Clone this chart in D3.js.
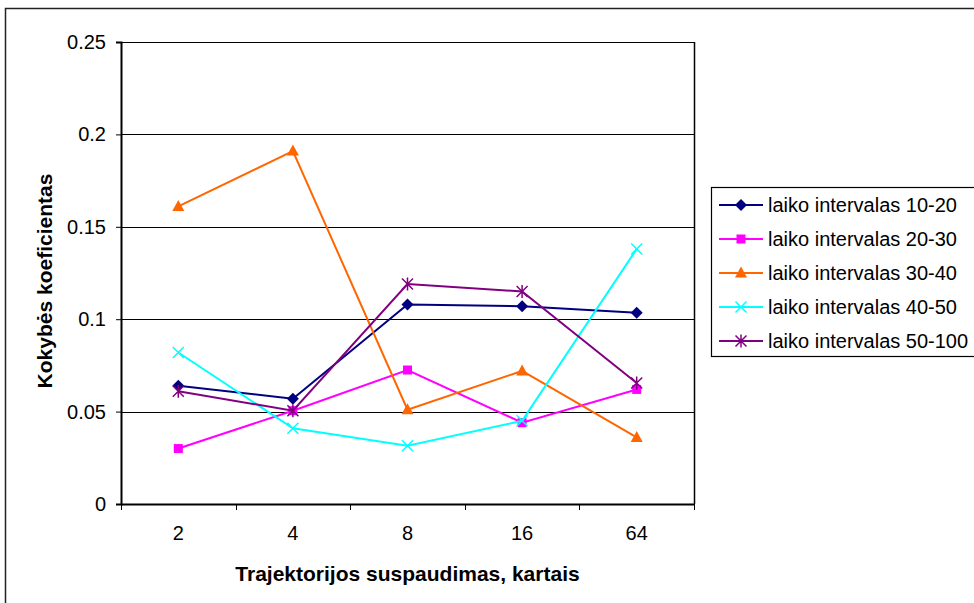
<!DOCTYPE html>
<html>
<head>
<meta charset="utf-8">
<script src="https://cdn.jsdelivr.net/npm/d3@7"></script>
<style>
  html, body { margin: 0; padding: 0; background: #fff; }
  svg { display: block; font-family: "Liberation Sans", Arial, sans-serif; }
</style>
</head>
<body>
<svg id="chart"></svg>
<script>
// categories (trajectory compression, times)
var categories = ["2", "4", "8", "16", "64"];
var yTicks = [0, 0.05, 0.1, 0.15, 0.2, 0.25];

var seriesNames = [
    "laiko intervalas 10-20",
    "laiko intervalas 20-30",
    "laiko intervalas 30-40",
    "laiko intervalas 40-50",
    "laiko intervalas 50-100"
];
var s1020 = [0.064, 0.057, 0.108, 0.107, 0.1035];
var s2030 = [0.030, 0.0505, 0.0725, 0.044, 0.062];
var s3040 = [0.161, 0.191, 0.051, 0.072, 0.036];
var s4050 = [0.082, 0.041, 0.0315, 0.045, 0.138];
var s50100 = [0.061, 0.0505, 0.119, 0.115, 0.0655];

var seriesValues = [s1020, s2030, s3040, s4050, s50100];
var colors = ["#000080", "#ff00ff", "#ff6600", "#00ffff", "#800080"];
var symbols = ["diamond", "square", "triangle", "x", "star"];

function drawChart() {
    var width = 974, height = 603;
    var marginLeft = 121, marginRight = 974 - 694, marginTop = 42, marginBottom = 603 - 504;
    var FONT = 20;

    var svg = d3.select("#chart")
        .attr("width", width)
        .attr("height", height)
        .attr("viewBox", [0, 0, width, height]);

    // outer chart frame (right and bottom edges fall outside the picture)
    svg.append("rect")
        .attr("x", 5.5).attr("y", 8.5)
        .attr("width", 1000).attr("height", 700)
        .attr("fill", "none")
        .attr("stroke", "#222")
        .attr("stroke-width", 1.5);

    var x = d3.scaleBand(categories, [marginLeft, width - marginRight]).padding(0);
    var y = d3.scaleLinear([0, 0.25], [height - marginBottom, marginTop]);

    // grid lines
    svg.append("g")
        .selectAll("line")
        .data(yTicks.filter(d => d > 0))
        .join("line")
        .attr("x1", marginLeft).attr("x2", width - marginRight)
        .attr("y1", d => Math.round(y(d)) + 0.5).attr("y2", d => Math.round(y(d)) + 0.5)
        .attr("stroke", "#000")
        .attr("stroke-width", 1);

    // right border of the plot area
    svg.append("line")
        .attr("x1", width - marginRight + 0.5).attr("x2", width - marginRight + 0.5)
        .attr("y1", marginTop).attr("y2", height - marginBottom)
        .attr("stroke", "#000").attr("stroke-width", 1.5);

    // y axis
    svg.append("g")
        .attr("transform", `translate(${marginLeft},0)`)
        .call(d3.axisLeft(y).tickValues(yTicks).tickFormat(d => String(d)).tickSize(5).tickPadding(10))
        .call(g => g.select(".domain").attr("stroke", "#000").attr("stroke-width", 2))
        .call(g => g.selectAll(".tick line").attr("stroke", "#000"))
        .call(g => g.selectAll(".tick text")
            .attr("font-size", FONT)
            .attr("fill", "#000")
            .attr("font-family", "Liberation Sans, Arial, sans-serif"));

    // x axis: labels at category centres, ticks between categories
    var xAxis = svg.append("g")
        .attr("transform", `translate(0,${height - marginBottom})`)
        .call(d3.axisBottom(x).tickSize(0).tickPadding(22).tickSizeOuter(0))
        .call(g => g.select(".domain").attr("stroke", "#000").attr("stroke-width", 2))
        .call(g => g.selectAll(".tick text")
            .attr("font-size", FONT)
            .attr("fill", "#000")
            .attr("font-family", "Liberation Sans, Arial, sans-serif"));

    var boundaries = categories.map(c => x(c)).concat([x(categories[categories.length - 1]) + x.bandwidth()]);
    xAxis.selectAll(".sep")
        .data(boundaries)
        .join("line")
        .attr("class", "sep")
        .attr("x1", d => Math.round(d) + 0.5).attr("x2", d => Math.round(d) + 0.5)
        .attr("y1", 0).attr("y2", 6)
        .attr("stroke", "#000");

    // axis titles
    svg.append("text")
        .attr("x", (marginLeft + width - marginRight) / 2)
        .attr("y", 581)
        .attr("text-anchor", "middle")
        .attr("font-size", 21)
        .attr("font-weight", "bold")
        .text("Trajektorijos suspaudimas, kartais");

    svg.append("text")
        .attr("transform", "translate(52,281) rotate(-90)")
        .attr("text-anchor", "middle")
        .attr("font-size", 21)
        .attr("font-weight", "bold")
        .text("Kokybės koeficientas");

    var cx = d => x(d.cat) + x.bandwidth() / 2;

    var line = d3.line()
        .x(cx)
        .y(d => y(d.v));

    function marker(sel, sym, color) {
        if (sym === "diamond") {
            sel.append("path").attr("d", "M0,-6L6,0L0,6L-6,0Z").attr("fill", color);
        } else if (sym === "square") {
            sel.append("rect").attr("x", -4.5).attr("y", -4.5).attr("width", 9).attr("height", 9).attr("fill", color);
        } else if (sym === "triangle") {
            sel.append("path").attr("d", "M0,-6.5L6,4.5L-6,4.5Z").attr("fill", color);
        } else if (sym === "x") {
            sel.append("path").attr("d", "M-5.5,-5.5L5.5,5.5M-5.5,5.5L5.5,-5.5").attr("stroke", color).attr("stroke-width", 1.5);
        } else if (sym === "star") {
            sel.append("path").attr("d", "M-5.5,-5.5L5.5,5.5M-5.5,5.5L5.5,-5.5M0,-6.5L0,6.5").attr("stroke", color).attr("stroke-width", 1.5);
        }
    }

    seriesValues.forEach(function(vals, i) {
        var pts = vals.map((v, j) => ({cat: categories[j], v: v}));
        var g = svg.append("g");
        g.append("path")
            .attr("fill", "none")
            .attr("stroke", colors[i])
            .attr("stroke-width", 2)
            .attr("d", line(pts));
        g.selectAll("g.m")
            .data(pts)
            .join("g")
            .attr("class", "m")
            .attr("transform", d => `translate(${cx(d)},${y(d.v)})`)
            .each(function() { marker(d3.select(this), symbols[i], colors[i]); });
    });

    // legend
    var legendX = 711, legendTop = 187, rowH = 34;
    svg.append("rect")
        .attr("x", legendX + 0.5).attr("y", legendTop + 0.5)
        .attr("width", 400).attr("height", 169)
        .attr("fill", "#fff")
        .attr("stroke", "#000")
        .attr("stroke-width", 1.2);

    seriesNames.forEach(function(name, i) {
        var cy = legendTop + 18 + i * rowH;
        var row = svg.append("g").attr("transform", `translate(${legendX},${cy})`);
        row.append("line")
            .attr("x1", 8).attr("x2", 52)
            .attr("stroke", colors[i]).attr("stroke-width", 2);
        var m = row.append("g").attr("transform", "translate(30,0)");
        marker(m, symbols[i], colors[i]);
        row.append("text")
            .attr("x", 57).attr("y", 7)
            .attr("font-size", FONT)
            .attr("fill", "#000")
            .text(name);
    });
}

drawChart();
</script>
</body>
</html>
